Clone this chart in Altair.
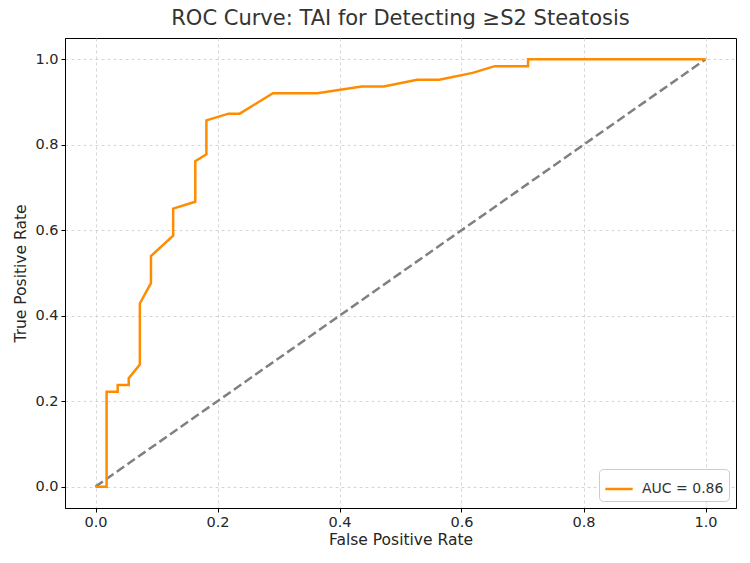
import altair as alt
import pandas as pd

# ROC operating points (false positive rate, true positive rate)
fpr = [0.0, 0.0182, 0.0182, 0.0364, 0.0364, 0.0545, 0.0545, 0.0727, 0.0727,
       0.0909, 0.0909, 0.1273, 0.1273, 0.1636, 0.1636, 0.1818, 0.1818, 0.2182,
       0.2364, 0.2909, 0.3636, 0.4364, 0.4727, 0.5273, 0.5636, 0.6182, 0.6545,
       0.7091, 0.7091, 1.0]
tpr = [0.0, 0.0, 0.2222, 0.2222, 0.2381, 0.2381, 0.2540, 0.2857, 0.4286,
       0.4762, 0.5397, 0.5873, 0.6508, 0.6667, 0.7619, 0.7778, 0.8571, 0.8730,
       0.8730, 0.9206, 0.9206, 0.9365, 0.9365, 0.9524, 0.9524, 0.9683, 0.9841,
       0.9841, 1.0, 1.0]
auc_label = "AUC = 0.86"

chance_x = [0.0, 1.0]
chance_y = [0.0, 1.0]

roc = pd.DataFrame({"fpr": fpr, "tpr": tpr, "step": list(range(len(fpr))),
                    "series": [auc_label] * len(fpr)})
chance = pd.DataFrame({"fpr": chance_x, "tpr": chance_y})

ticks = [0.0, 0.2, 0.4, 0.6, 0.8, 1.0]
x_scale = alt.Scale(domain=[-0.05, 1.05], nice=False, zero=False)
y_scale = alt.Scale(domain=[-0.05, 1.05], nice=False, zero=False)

x_enc = alt.X("fpr:Q", scale=x_scale, title="False Positive Rate",
              axis=alt.Axis(values=ticks, format=".1f"))
y_enc = alt.Y("tpr:Q", scale=y_scale, title="True Positive Rate",
              axis=alt.Axis(values=ticks, format=".1f"))

roc_line = alt.Chart(roc).mark_line(strokeWidth=2.5, clip=True).encode(
    x=x_enc,
    y=y_enc,
    order="step:Q",
    color=alt.Color("series:N", scale=alt.Scale(range=["#ff8c00"]),
                    legend=alt.Legend(title=None, orient="bottom-right",
                                      offset=7, symbolType="stroke",
                                      symbolSize=750, symbolStrokeWidth=2.5,
                                      labelFontSize=14, labelColor="#333333",
                                      labelFont="DejaVu Sans", labelOffset=8,
                                      fillColor="white", strokeColor="#cccccc",
                                      cornerRadius=4, padding=5)),
)

chance_line = alt.Chart(chance).mark_line(
    strokeWidth=2.5, strokeDash=[9, 4], color="#808080"
).encode(x=x_enc, y=y_enc)

chart = (chance_line + roc_line).properties(
    width=671,
    height=470,
    title=alt.TitleParams("ROC Curve: TAI for Detecting ≥S2 Steatosis",
                          fontSize=21, font="DejaVu Sans", fontWeight="normal",
                          color="#333333", offset=9, anchor="middle"),
    autosize=alt.AutoSizeParams(type="none"),
    padding={"left": 65, "top": 38, "right": 14, "bottom": 55},
).configure_view(
    stroke="#000000", strokeWidth=1
).configure_axis(
    labelFont="DejaVu Sans", labelFontSize=14.5, labelColor="#262626",
    titleFont="DejaVu Sans", titleFontSize=15.5, titleFontWeight="normal",
    titleColor="#262626",
    gridColor="#cccccc", gridDash=[3, 3], gridWidth=0.8,
    domainColor="#000000", tickColor="#000000", tickSize=4,
    labelPadding=3,
).configure_axisX(titlePadding=4).configure_axisY(titlePadding=6)

chart.save("out.html", embed_options={"renderer": "svg", "actions": False})
